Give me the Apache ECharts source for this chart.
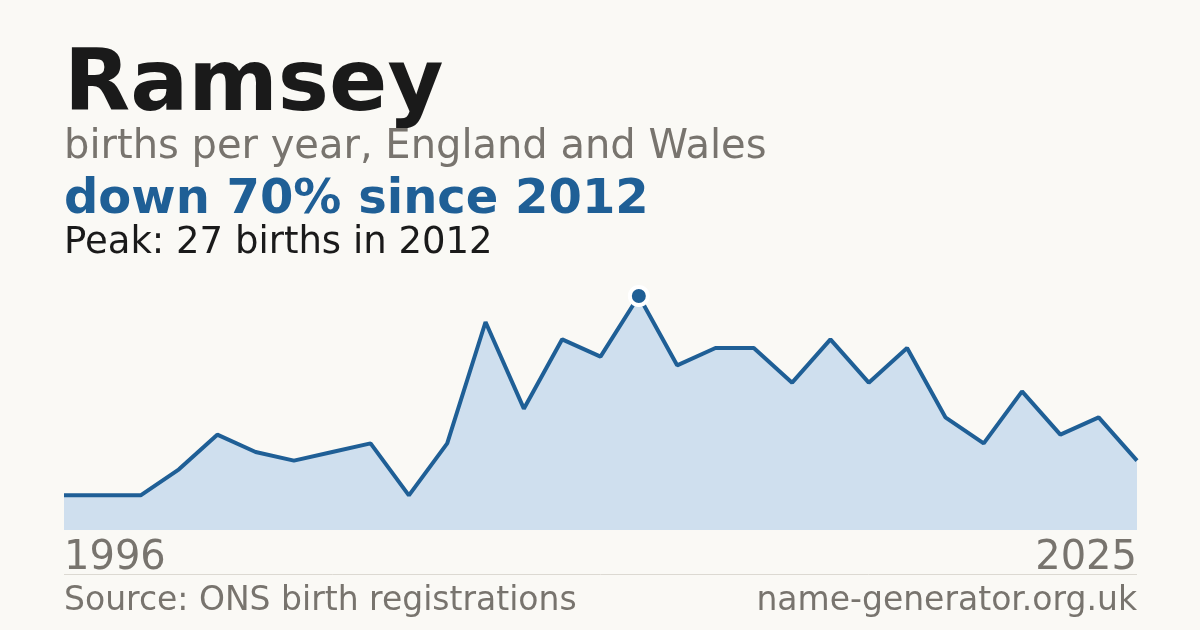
<!DOCTYPE html>
<html>
<head>
<meta charset="utf-8">
<script src="https://cdn.jsdelivr.net/npm/echarts@6/dist/echarts.min.js"></script>
<style>
  html, body { margin: 0; padding: 0; background: #faf9f5; }
  #chart { width: 1200px; height: 630px; }
</style>
</head>
<body>
<div id="chart"></div>
<script>
// one year missing from the registrations, so 29 points
const years = ["1996", "1998", "1999", "2000", "2001", "2002", "2003", "2004", "2005", "2006",
  "2007", "2008", "2009", "2010", "2011", "2012", "2013", "2014", "2015", "2016",
  "2017", "2018", "2019", "2020", "2021", "2022", "2023", "2024", "2025"];
const births = [4, 4, 4, 7, 11, 9, 8, 9, 10, 4,
  10, 24, 14, 22, 20, 27, 19, 21, 21, 17,
  22, 17, 21, 13, 10, 16, 11, 13, 8];

const name = "Ramsey";
const subtitle = "births per year, England and Wales";
const headline = "down 70% since 2012";
const peakText = "Peak: 27 births in 2012";
const source = "Source: ONS birth registrations";
const site = "name-generator.org.uk";

const font = "DejaVu Sans";
const grey = "#78746e";
const blue = "#1f5f96";

const chart = echarts.init(document.getElementById("chart"));

function text(left, top, str, size, color, weight, align) {
  return {
    type: "text",
    left: align === "right" ? null : left,
    right: align === "right" ? left : null,
    top,
    style: { text: str, font: `${weight || "normal"} ${size}px "${font}"`, fill: color },
  };
}

chart.setOption({
  backgroundColor: "#faf9f5",
  animation: false,
  grid: { left: 64, right: 63, top: 296, bottom: 100 },
  xAxis: {
    type: "category",
    data: years,
    boundaryGap: false,
    axisLine: { show: false },
    axisTick: { show: false },
    axisLabel: {
      interval: (i) => i === 0 || i === years.length - 1,
      alignMinLabel: "left",
      alignMaxLabel: "right",
      margin: 9,
      fontFamily: font,
      fontSize: 40,
      color: grey,
    },
  },
  yAxis: { type: "value", min: 0, max: 27, show: false, splitLine: { show: false } },
  series: [{
    type: "line",
    data: births,
    symbol: "none",
    lineStyle: { color: blue, width: 4 },
    areaStyle: { color: "#cfdfee", opacity: 1 },
    markPoint: {
      symbol: "circle",
      symbolSize: 18,
      label: { show: false },
      itemStyle: { color: blue, borderColor: "#ffffff", borderWidth: 4 },
      data: [{ type: "max" }],
    },
  }],
  graphic: [
    text(64, 45, name, 86, "#1a1a1a", "bold"),
    text(64, 128, subtitle, 40, grey),
    text(64, 177, headline, 48, blue, "bold"),
    text(64, 225, peakText, 37, "#1a1a1a"),
    {
      type: "line",
      shape: { x1: 64, y1: 574.5, x2: 1137, y2: 574.5 },
      style: { stroke: "#dcd9d2", lineWidth: 1 },
    },
    text(64, 585, source, 33, grey),
    text(63, 585, site, 33, grey, "normal", "right"),
  ],
});
</script>
</body>
</html>
